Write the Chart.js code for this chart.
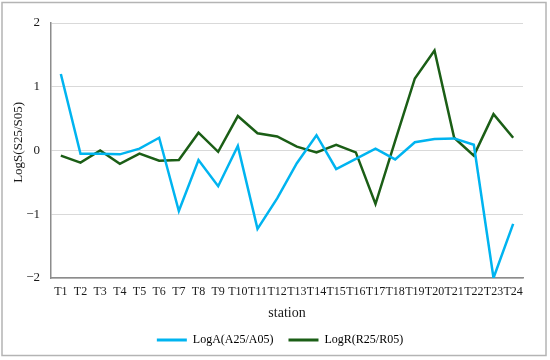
<!DOCTYPE html>
<html>
<head>
<meta charset="utf-8">
<script src="https://cdn.jsdelivr.net/npm/chart.js@4.4.1/dist/chart.umd.min.js"></script>
<style>
  html, body { margin: 0; padding: 0; background: #fff; }
  #wrap { width: 550px; height: 360px; position: relative; }
</style>
</head>
<body>
<div id="wrap"><canvas id="chart"></canvas></div>
<script>
// stations along the x axis
const stations = ['T1', 'T2', 'T3', 'T4', 'T5', 'T6', 'T7', 'T8', 'T9', 'T10', 'T11', 'T12',
                  'T13', 'T14', 'T15', 'T16', 'T17', 'T18', 'T19', 'T20', 'T21', 'T22', 'T23', 'T24']

// values
const logA = [1.20, -0.05, -0.05, -0.06, 0.03, 0.20, -0.95, -0.15, -0.56, 0.07, -1.23, -0.75,
              -0.20, 0.24, -0.29, -0.13, 0.03, -0.14, 0.13, 0.18, 0.19, 0.09, -2.00, -1.15]
const logR = [-0.08, -0.19, 0.00, -0.21, -0.05, -0.16, -0.15, 0.28, -0.02, 0.54, 0.27, 0.22,
              0.06, -0.03, 0.09, -0.03, -0.84, 0.15, 1.13, 1.57, 0.20, -0.08, 0.57, 0.20]

const yMin = -2
const yMax = 2

const serif = 'Liberation Serif'
const textColor = '#1a1a1a'

// grey frame round the whole figure
const frame = {
    id: 'frame',
    beforeDraw(chart) {
        const ctx = chart.ctx
        ctx.save()
        ctx.fillStyle = '#fff'
        ctx.fillRect(0, 0, chart.width, chart.height)
        ctx.strokeStyle = '#b4b4b4'
        ctx.lineWidth = 1.5
        ctx.strokeRect(2, 2.5, 544, 353)
        ctx.restore()
    }
}

// the legend in the picture sits a bit right of the plot centre
const legendShift = {
    id: 'legendShift',
    afterLayout(chart) {
        const lg = chart.legend
        const dx = 280 - (lg.left + lg.right) / 2
        lg.left += dx
        lg.right += dx
        lg.top -= 2
        lg.bottom -= 2
    }
}

const ctx = document.getElementById('chart').getContext('2d')

new Chart(ctx, {
    type: 'line',
    data: {
        labels: stations,
        datasets: [
            {
                label: 'LogA(A25/A05)',
                data: logA,
                borderColor: '#00b4f0',
                backgroundColor: '#00b4f0',
                borderWidth: 2.5,
            },
            {
                label: 'LogR(R25/R05)',
                data: logR,
                borderColor: '#1b5e16',
                backgroundColor: '#1b5e16',
                borderWidth: 2.5,
            }
        ]
    },
    options: {
        responsive: true,
        maintainAspectRatio: false,
        animation: false,
        layout: {
            padding: { top: 23, right: 27, bottom: 2, left: 11 }
        },
        elements: {
            point: { radius: 0 },
            line: { tension: 0, fill: false }
        },
        scales: {
            x: {
                offset: true,
                grid: { display: false, drawTicks: false },
                border: { display: true, color: '#8c8c8c', width: 1.5 },
                ticks: {
                    autoSkip: false,
                    maxRotation: 0,
                    minRotation: 0,
                    padding: 8,
                    color: textColor,
                    font: { family: serif, size: 12, lineHeight: 1 }
                },
                title: {
                    display: true,
                    text: 'station',
                    color: textColor,
                    font: { family: serif, size: 14, lineHeight: 1 },
                    padding: { top: 0, bottom: 1 }
                }
            },
            y: {
                min: yMin,
                max: yMax,
                afterFit(scale) {
                    scale.width = 40
                },
                grid: { color: '#d9d9d9', lineWidth: 1, drawTicks: false },
                border: { display: true, color: '#8c8c8c', width: 1.5 },
                ticks: {
                    stepSize: 1,
                    padding: 11,
                    color: textColor,
                    font: { family: serif, size: 13 },
                    callback: function(value) {
                        return String(value).replace('-', '\u2212')
                    }
                },
                title: {
                    display: true,
                    // leading spaces nudge the centred title up, as in the picture
                    text: '     LogS(S25/S05)',
                    color: textColor,
                    font: { family: serif, size: 13 },
                    padding: { top: 0, bottom: 0 }
                }
            }
        },
        plugins: {
            legend: {
                position: 'bottom',
                labels: {
                    boxWidth: 30,
                    boxHeight: 3,
                    padding: 15,
                    color: textColor,
                    font: { family: serif, size: 12 },
                    generateLabels(chart) {
                        return chart.data.datasets.map((ds, i) => ({
                            text: ds.label,
                            fillStyle: ds.borderColor,
                            strokeStyle: ds.borderColor,
                            lineWidth: 0,
                            datasetIndex: i,
                            hidden: false
                        }))
                    }
                }
            },
            tooltip: { enabled: false }
        }
    },
    plugins: [frame, legendShift]
})
</script>
</body>
</html>
